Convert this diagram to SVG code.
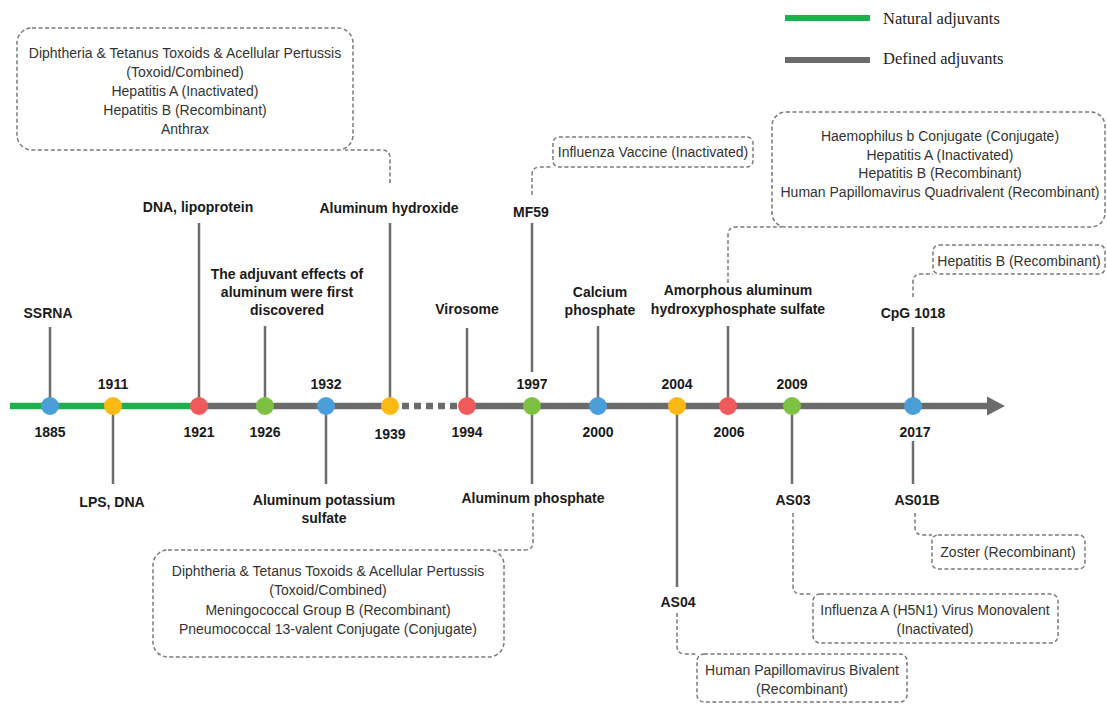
<svg xmlns="http://www.w3.org/2000/svg" width="1107" height="704" viewBox="0 0 1107 704">
<style>
.lbl{font-family:"Liberation Sans",Arial,sans-serif;font-size:14px;font-weight:bold;fill:#1a1a1a;text-anchor:middle}
.yr{font-family:"Liberation Sans",Arial,sans-serif;font-size:14px;font-weight:bold;fill:#1a1a1a;text-anchor:middle}
.bt{font-family:"Liberation Sans",Arial,sans-serif;font-size:14px;fill:#333;text-anchor:middle}
.leg{font-family:"Liberation Serif","Times New Roman",serif;font-size:16.5px;fill:#222}
.box{fill:none;stroke:#7a7a7a;stroke-width:1.5;stroke-dasharray:4 2.5}
.dash{fill:none;stroke:#7a7a7a;stroke-width:1.5;stroke-dasharray:4 2.5}
.stem{stroke:#6d6d6d;stroke-width:2.5;fill:none}
.blue{fill:#4a9fd8}.orange{fill:#fdb913}.red{fill:#f15a5a}.green{fill:#7cc142}
</style>
<rect width="1107" height="704" fill="#fff"/>
<g id="legend">
<line x1="785" y1="18" x2="870" y2="18" stroke="#1fb04b" stroke-width="6"/>
<text class="leg" x="883" y="24">Natural adjuvants</text>
<line x1="785" y1="60" x2="870" y2="60" stroke="#6b6b6b" stroke-width="6"/>
<text class="leg" x="883" y="64">Defined adjuvants</text>
</g>
<g id="connectors">
<line x1="10" y1="406" x2="199" y2="406" stroke="#1fb04b" stroke-width="6.5"/>
<line x1="199" y1="406" x2="398" y2="406" stroke="#6b6b6b" stroke-width="6.5"/>
<line x1="402" y1="406" x2="459" y2="406" stroke="#6b6b6b" stroke-width="6.5" stroke-dasharray="7 5"/>
<line x1="466" y1="406" x2="990" y2="406" stroke="#6b6b6b" stroke-width="6.5"/>
<polygon points="987,396.5 1005,406 987,415.5" fill="#6b6b6b"/>
<path class="stem" d="M50,327V406M113,406V484M199,223V406M265,326V406M326,406V484M390,223V406M467,328V406M532,223V372M532,406V484M598,326V406M677,406V587M728,326V406M792,406V484M913,327V406M913,441V484"/>
<path class="dash" d="M390,183V158Q390,150 382,150H345"/>
<path class="dash" d="M532,195V175Q532,167 540,167H553"/>
<path class="dash" d="M728,283V235Q728,227 736,227H782"/>
<path class="dash" d="M913,297V282Q913,274 921,274H933"/>
<path class="dash" d="M533,513V542Q533,550 525,550H495"/>
<path class="dash" d="M677,613V646Q677,654 685,654H697"/>
<path class="dash" d="M793,513V586Q793,594 801,594H813"/>
<path class="dash" d="M915,513V527Q915,535 923,535H932"/>
</g>
<g id="n1885"><circle class="blue" cx="50" cy="406" r="9"/><text class="yr" x="50" y="437">1885</text><text class="lbl" x="48" y="318">SSRNA</text></g>
<g id="n1911"><circle class="orange" cx="113" cy="406" r="9"/><text class="yr" x="113" y="389">1911</text><text class="lbl" x="112" y="507">LPS, DNA</text></g>
<g id="n1921"><circle class="red" cx="199" cy="406" r="9"/><text class="yr" x="199" y="437">1921</text><text class="lbl" x="198" y="212">DNA, lipoprotein</text></g>
<g id="n1926"><circle class="green" cx="265" cy="406" r="9"/><text class="yr" x="265" y="437">1926</text><text class="lbl" x="287" y="279">The adjuvant effects of</text><text class="lbl" x="287" y="297">aluminum were first</text><text class="lbl" x="287" y="315">discovered</text></g>
<g id="n1932"><circle class="blue" cx="326" cy="406" r="9"/><text class="yr" x="326" y="389">1932</text><text class="lbl" x="324" y="505">Aluminum potassium</text><text class="lbl" x="324" y="523">sulfate</text></g>
<g id="n1939"><circle class="orange" cx="390" cy="406" r="9"/><text class="yr" x="390" y="439">1939</text><text class="lbl" x="389" y="213">Aluminum hydroxide</text></g>
<g id="n1994"><circle class="red" cx="467" cy="406" r="9"/><text class="yr" x="467" y="437">1994</text><text class="lbl" x="467" y="314">Virosome</text></g>
<g id="n1997"><circle class="green" cx="532" cy="406" r="9"/><text class="yr" x="532" y="389">1997</text><text class="lbl" x="531" y="217">MF59</text><text class="lbl" x="533" y="503">Aluminum phosphate</text></g>
<g id="n2000"><circle class="blue" cx="598" cy="406" r="9"/><text class="yr" x="598" y="437">2000</text><text class="lbl" x="600" y="297">Calcium</text><text class="lbl" x="600" y="315">phosphate</text></g>
<g id="n2004"><circle class="orange" cx="677" cy="406" r="9"/><text class="yr" x="677" y="389">2004</text><text class="lbl" x="678" y="607">AS04</text></g>
<g id="n2006"><circle class="red" cx="728" cy="406" r="9"/><text class="yr" x="729" y="437">2006</text><text class="lbl" x="738" y="295">Amorphous aluminum</text><text class="lbl" x="738" y="314">hydroxyphosphate sulfate</text></g>
<g id="n2009"><circle class="green" cx="792" cy="406" r="9"/><text class="yr" x="792" y="389">2009</text><text class="lbl" x="793" y="505">AS03</text></g>
<g id="n2017"><circle class="blue" cx="913" cy="406" r="9"/><text class="yr" x="915" y="437">2017</text><text class="lbl" x="913" y="318">CpG 1018</text><text class="lbl" x="917" y="505">AS01B</text></g>
<g id="box-alhydroxide"><rect class="box" x="17" y="28" width="336" height="122" rx="15"/>
<text class="bt" x="185" y="58">Diphtheria &amp; Tetanus Toxoids &amp; Acellular Pertussis</text>
<text class="bt" x="185" y="77">(Toxoid/Combined)</text>
<text class="bt" x="185" y="96">Hepatitis A (Inactivated)</text>
<text class="bt" x="185" y="115">Hepatitis B (Recombinant)</text>
<text class="bt" x="185" y="134">Anthrax</text></g>
<g id="box-mf59"><rect class="box" x="553" y="137" width="200" height="30" rx="6"/>
<text class="bt" x="653" y="157">Influenza Vaccine (Inactivated)</text></g>
<g id="box-aahs"><rect class="box" x="772" y="112" width="333" height="115" rx="14"/>
<text class="bt" x="940" y="141">Haemophilus b Conjugate (Conjugate)</text>
<text class="bt" x="940" y="160">Hepatitis A (Inactivated)</text>
<text class="bt" x="940" y="178">Hepatitis B (Recombinant)</text>
<text class="bt" x="940" y="197">Human Papillomavirus Quadrivalent (Recombinant)</text></g>
<g id="box-cpg"><rect class="box" x="933" y="245" width="172" height="29" rx="6"/>
<text class="bt" x="1019" y="266">Hepatitis B (Recombinant)</text></g>
<g id="box-alphosphate"><rect class="box" x="153" y="550" width="351" height="107" rx="15"/>
<text class="bt" x="328" y="576">Diphtheria &amp; Tetanus Toxoids &amp; Acellular Pertussis</text>
<text class="bt" x="328" y="595">(Toxoid/Combined)</text>
<text class="bt" x="328" y="615">Meningococcal Group B (Recombinant)</text>
<text class="bt" x="328" y="634">Pneumococcal 13-valent Conjugate (Conjugate)</text></g>
<g id="box-as04"><rect class="box" x="697" y="654" width="210" height="48" rx="7"/>
<text class="bt" x="802" y="675">Human Papillomavirus Bivalent</text>
<text class="bt" x="802" y="694">(Recombinant)</text></g>
<g id="box-as03"><rect class="box" x="813" y="594" width="245" height="49" rx="7"/>
<text class="bt" x="935" y="615">Influenza A (H5N1) Virus Monovalent</text>
<text class="bt" x="935" y="634">(Inactivated)</text></g>
<g id="box-as01b"><rect class="box" x="932" y="535" width="153" height="34" rx="6"/>
<text class="bt" x="1008" y="557">Zoster (Recombinant)</text></g>
</svg>
